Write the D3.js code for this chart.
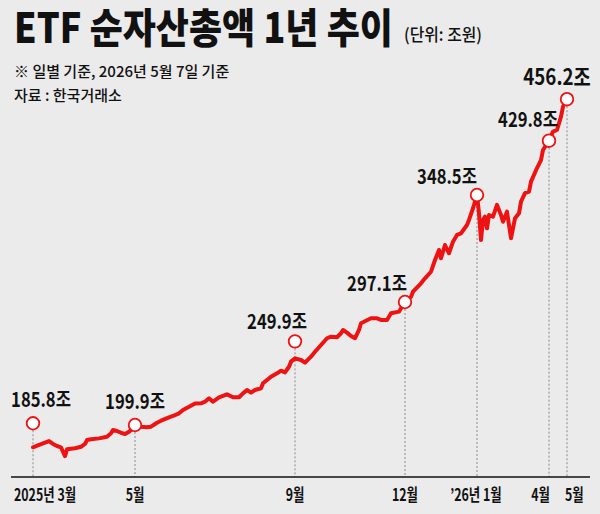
<!DOCTYPE html>
<html>
<head>
<meta charset="utf-8">
<script src="https://cdn.jsdelivr.net/npm/d3@7"></script>
<style>
  html, body { margin: 0; padding: 0; background: #ebebeb; }
  svg { display: block; }
  text { font-family: "Noto Sans CJK KR", "Noto Sans", sans-serif; fill: #111; }
</style>
</head>
<body>
<svg id="vis" width="600" height="514"></svg>
<script>
// trading-day index (0 = first day of Mar 2025) and net assets (조원)
const days = [0,3,5,8,10,12,14,15,16,17,19,21,24,26,27,29,33,37,39,40,42,44,46,48,50,51,
  54,57,59,62,64,68,70,73,75,78,81,
  84,86,88,90,93,97,100,103,105,107,109,111,114,115,117,119,122,124,126,128,129,131,
  134,136,139,141,144,147,149,152,154,155,157,159,161,163,164,169,172,174,177,179,183,184,186,
  189,190,194,196,199,201,203,204,206,208,210,212,214,217,218,220,222,223,224,225,226,227,228,
  230,232,234,235,237,238,239,241,243,244,246,248,249,252,254,255,258,260,262,264,265,267];
const netAssets = [182.4,184.2,185.5,187.3,185.0,183.4,182.4,178.9,175.5,180.8,181.3,181.6,182.8,185.0,188.1,188.7,189.4,190.7,193.4,196.0,195.2,193.8,192.8,194.6,197.3,199.9,
  198.6,198.1,198.6,201.7,203.3,205.9,207.0,209.1,211.7,214.3,216.9,
  217.0,218.2,220.9,218.2,221.7,224.0,221.7,221.7,224.8,227.4,225.3,227.4,228.8,232.7,235.3,237.9,240.5,242.6,241.3,245.7,249.7,252.3,
  251.0,248.9,253.6,257.5,262.8,268.1,269.3,268.9,272.0,274.6,272.5,269.9,268.1,274.6,279.9,283.8,283.8,282.5,282.5,287.7,289.0,291.7,296.6,
  300.8,304.7,311.3,315.2,320.4,329.6,337.5,331.0,341.4,334.9,344.0,349.3,350.6,357.1,361.1,370.3,380.7,366.3,345.3,361.1,363.7,354.5,365.0,
  363.7,372.9,365.0,359.7,367.6,357.1,346.7,362.4,366.3,375.5,382.1,383.3,391.2,401.9,408.2,416.1,423.4,430.5,431.8,442.3,450.2,456.0];

// highlighted days and their reported values
const markDays = [0, 51, 131, 186, 222, 258, 267];
const markValues = [185.8, 199.9, 249.9, 297.1, 348.5, 429.8, 456.2];

// x-axis tick labels (at the highlighted days)
const tickLabels = ["2025년 3월", "5월", "9월", "12월", "\u201926년 1월", "4월", "5월"];

const svg = d3.select('#vis');
const red = '#ef1212';
const axisY = 477;

const x = d3.scaleLinear().domain([0, 267]).range([33, 567]);
const y = d3.scaleLinear().domain([150, 470]).range([488.5, 81.4]);

// condensed text helper: scale glyphs horizontally
function ctext(g, str, tx, ty, k, anchor) {
  return g.append('text')
    .attr('transform', `translate(${tx},${ty}) scale(${k},1)`)
    .attr('text-anchor', anchor || 'middle')
    .text(str);
}

// squeeze a text so it spans exactly w pixels
function fitText(str, tx, ty, w, size, weight) {
  const t = svg.append('text')
    .style('font-size', size).style('font-weight', weight)
    .text(str);
  const len = t.node().getComputedTextLength();
  t.attr('transform', `translate(${tx},${ty}) scale(${w / len},1)`);
  return t;
}

// title block
fitText('ETF 순자산총액 1년 추이', 14, 43, 379, '41px', 900);
fitText('(단위: 조원)', 404, 41, 78, '17px', 500);
svg.append('text').attr('x', 14).attr('y', 77)
  .style('font-size', '15px').style('font-weight', 500)
  .text('※ 일별 기준, 2026년 5월 7일 기준');
svg.append('text').attr('x', 14).attr('y', 101)
  .style('font-size', '15px').style('font-weight', 500)
  .text('자료 : 한국거래소');

// layout of the markers: lift above line and label offsets
const lift = [24, 0, 17, 0, 0, 0, 0];
const labelDx = [8, 0, -18, -28, -30, -21, -10];
const labelDy = [-16, -16, -12, -11, -11, -14, -14];

const marks = markDays.map((d, i) => {
  const idx = days.indexOf(d);
  return { cx: x(d), cy: y(netAssets[idx]) - lift[i], v: markValues[i], i: i };
});

// dashed guide lines
svg.append('g').selectAll('line').data(marks).join('line')
  .attr('x1', d => d.cx).attr('x2', d => d.cx)
  .attr('y1', d => d.cy + 7).attr('y2', axisY)
  .attr('stroke', '#8a8a8a').attr('stroke-width', 1)
  .attr('stroke-dasharray', '2,2');

// axis line
svg.append('line').attr('x1', 11).attr('x2', 590).attr('y1', axisY).attr('y2', axisY)
  .attr('stroke', '#111').attr('stroke-width', 1.6);

// tick labels
const tickAnchor = ['start', 'middle', 'middle', 'middle', 'middle', 'end', 'start'];
const tickDx = [-19, 0, 0, 0, -1, 1, -2];
const ticks = svg.append('g');
markDays.forEach((d, i) => {
  ctext(ticks, tickLabels[i], x(d) + tickDx[i], 501, 0.75, tickAnchor[i])
    .style('font-size', '16.5px').style('font-weight', 700);
});

// the series
const line = d3.line()
  .x((d, i) => x(days[i]))
  .y(d => y(d));

svg.append('path').datum(netAssets)
  .attr('d', line)
  .attr('fill', 'none')
  .attr('stroke', red)
  .attr('stroke-width', 4)
  .attr('stroke-linejoin', 'round')
  .attr('stroke-linecap', 'round');

// markers
svg.append('g').selectAll('circle').data(marks).join('circle')
  .attr('cx', d => d.cx).attr('cy', d => d.cy).attr('r', 6.3)
  .attr('fill', '#fff').attr('stroke', red).attr('stroke-width', 1.8);

// value labels
const labels = svg.append('g');
marks.forEach(d => {
  const big = d.i === marks.length - 1;
  ctext(labels, d3.format('.1f')(d.v) + '조', d.cx + labelDx[d.i], d.cy + labelDy[d.i], big ? 0.85 : 0.83)
    .style('font-size', big ? '22px' : '20px').style('font-weight', 700);
});
</script>
</body>
</html>
